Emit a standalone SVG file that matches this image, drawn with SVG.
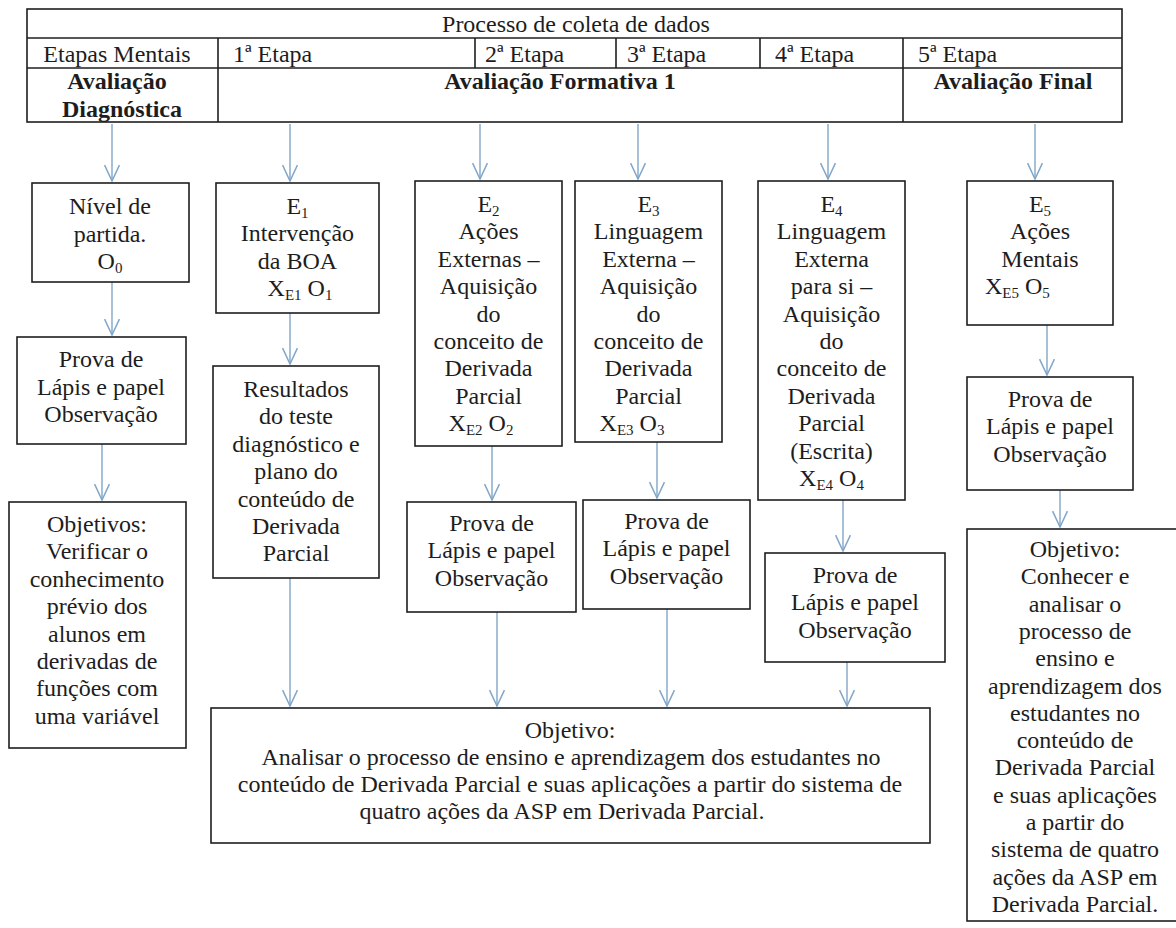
<svg xmlns="http://www.w3.org/2000/svg" width="1176" height="928" viewBox="0 0 1176 928" font-family="Liberation Serif, Times New Roman, serif">
<style>
text{font-family:Liberation Serif, Times New Roman, serif;font-size:24px;fill:#1d1d1d;text-anchor:middle}
.b{font-weight:bold}
.l{text-anchor:start}
.s{font-size:15px}
.box{fill:#fff;stroke:#1f1f1f;stroke-width:1.6}
.grid{stroke:#1f1f1f;stroke-width:1.6;fill:none}
#connectors line{stroke:#80a6c8;stroke-width:1.4;marker-end:url(#v)}
</style>
<defs>
<marker id="v" markerUnits="userSpaceOnUse" markerWidth="18" markerHeight="18" viewBox="-16 -8 17 16" refX="0" refY="0" orient="auto" overflow="visible">
<path d="M-15,-7 L0,0 L-15,7" fill="none" stroke="#80a6c8" stroke-width="1.4"/>
</marker>
</defs>
<rect width="1176" height="928" fill="#fff"/>

<!-- header table -->
<g id="header">
<rect class="grid" x="27" y="9" width="1095" height="113"/>
<line class="grid" x1="27" y1="38" x2="1122" y2="38"/>
<line class="grid" x1="27" y1="68" x2="1122" y2="68"/>
<line class="grid" x1="218" y1="38" x2="218" y2="122"/>
<line class="grid" x1="475" y1="38" x2="475" y2="68"/>
<line class="grid" x1="616" y1="38" x2="616" y2="68"/>
<line class="grid" x1="760" y1="38" x2="760" y2="68"/>
<line class="grid" x1="903" y1="38" x2="903" y2="122"/>
<text x="576" y="32">Processo de coleta de dados</text>
<text x="117" y="62">Etapas Mentais</text>
<text class="l" x="233" y="62">1ª Etapa</text>
<text class="l" x="485" y="62">2ª Etapa</text>
<text class="l" x="627" y="62">3ª Etapa</text>
<text class="l" x="775" y="62">4ª Etapa</text>
<text class="l" x="918" y="62">5ª Etapa</text>
<text class="b" x="117" y="89">Avaliação</text>
<text class="b" x="122" y="117">Diagnóstica</text>
<text class="b" x="560" y="89">Avaliação Formativa 1</text>
<text class="b" x="1013" y="89">Avaliação Final</text>
</g>

<g id="connectors">
<line x1="112" y1="124" x2="112" y2="181"/>
<line x1="290" y1="124" x2="290" y2="181"/>
<line x1="480" y1="124" x2="480" y2="179"/>
<line x1="638" y1="124" x2="638" y2="179"/>
<line x1="828" y1="124" x2="828" y2="179"/>
<line x1="1035" y1="124" x2="1035" y2="179"/>
<line x1="112" y1="282" x2="112" y2="335"/>
<line x1="102" y1="444" x2="102" y2="500"/>
<line x1="290" y1="313" x2="290" y2="364"/>
<line x1="290" y1="578" x2="290" y2="706"/>
<line x1="492" y1="446" x2="492" y2="500"/>
<line x1="497" y1="612" x2="497" y2="706"/>
<line x1="657" y1="442" x2="657" y2="498"/>
<line x1="667" y1="609" x2="667" y2="706"/>
<line x1="843" y1="500" x2="843" y2="551"/>
<line x1="847" y1="662" x2="847" y2="706"/>
<line x1="1047" y1="325" x2="1047" y2="375"/>
<line x1="1060" y1="490" x2="1060" y2="527"/>
</g>

<g id="nivel">
<rect class="box" x="32" y="183" width="157" height="99"/>
<text x="110" y="214">Nível de</text>
<text x="110" y="241.5">partida.</text>
<text x="110" y="269">O<tspan class="s" dy="4">0</tspan></text>
</g>

<g id="prova-diagnostica">
<rect class="box" x="17" y="337" width="169" height="107"/>
<text x="101" y="367">Prova de</text>
<text x="101" y="394.5">Lápis e papel</text>
<text x="101" y="422">Observação</text>
</g>

<g id="objetivos-diagnostica">
<rect class="box" x="9" y="502" width="177" height="246"/>
<text x="97" y="532">Objetivos:</text>
<text x="97" y="559.4">Verificar o</text>
<text x="97" y="586.8">conhecimento</text>
<text x="97" y="614.2">prévio dos</text>
<text x="97" y="641.6">alunos em</text>
<text x="97" y="669">derivadas de</text>
<text x="97" y="696.4">funções com</text>
<text x="97" y="723.8">uma variável</text>
</g>

<g id="e1">
<rect class="box" x="216" y="183" width="163" height="130"/>
<text x="297.5" y="214">E<tspan class="s" dy="4">1</tspan></text>
<text x="297.5" y="241.4">Intervenção</text>
<text x="297.5" y="268.8">da BOA</text>
<text x="300" y="296.2">X<tspan class="s" dy="4">E1</tspan><tspan dy="-4"> O</tspan><tspan class="s" dy="4">1</tspan></text>
</g>

<g id="resultados">
<rect class="box" x="213" y="366" width="166" height="212"/>
<text x="296" y="397">Resultados</text>
<text x="296" y="424.4">do teste</text>
<text x="296" y="451.8">diagnóstico e</text>
<text x="296" y="479.2">plano do</text>
<text x="296" y="506.6">conteúdo de</text>
<text x="296" y="534">Derivada</text>
<text x="296" y="561.4">Parcial</text>
</g>

<g id="e2">
<rect class="box" x="415" y="181" width="147" height="265"/>
<text x="488.5" y="212">E<tspan class="s" dy="4">2</tspan></text>
<text x="488.5" y="239.4">Ações</text>
<text x="488.5" y="266.8">Externas –</text>
<text x="488.5" y="294.2">Aquisição</text>
<text x="488.5" y="321.6">do</text>
<text x="488.5" y="349">conceito de</text>
<text x="488.5" y="376.4">Derivada</text>
<text x="488.5" y="403.8">Parcial</text>
<text x="481" y="431.2">X<tspan class="s" dy="4">E2</tspan><tspan dy="-4"> O</tspan><tspan class="s" dy="4">2</tspan></text>
</g>

<g id="prova-e2">
<rect class="box" x="407" y="502" width="169" height="110"/>
<text x="491.5" y="531">Prova de</text>
<text x="491.5" y="558.4">Lápis e papel</text>
<text x="491.5" y="585.8">Observação</text>
</g>

<g id="e3">
<rect class="box" x="575" y="181" width="147" height="261"/>
<text x="648.5" y="212">E<tspan class="s" dy="4">3</tspan></text>
<text x="648.5" y="239.4">Linguagem</text>
<text x="648.5" y="266.8">Externa –</text>
<text x="648.5" y="294.2">Aquisição</text>
<text x="648.5" y="321.6">do</text>
<text x="648.5" y="349">conceito de</text>
<text x="648.5" y="376.4">Derivada</text>
<text x="648.5" y="403.8">Parcial</text>
<text x="632" y="431.2">X<tspan class="s" dy="4">E3</tspan><tspan dy="-4"> O</tspan><tspan class="s" dy="4">3</tspan></text>
</g>

<g id="prova-e3">
<rect class="box" x="583" y="500" width="167" height="109"/>
<text x="666.5" y="529">Prova de</text>
<text x="666.5" y="556.4">Lápis e papel</text>
<text x="666.5" y="583.8">Observação</text>
</g>

<g id="e4">
<rect class="box" x="758" y="181" width="147" height="319"/>
<text x="831.5" y="212">E<tspan class="s" dy="4">4</tspan></text>
<text x="831.5" y="239.4">Linguagem</text>
<text x="831.5" y="266.8">Externa</text>
<text x="831.5" y="294.2">para si –</text>
<text x="831.5" y="321.6">Aquisição</text>
<text x="831.5" y="349">do</text>
<text x="831.5" y="376.4">conceito de</text>
<text x="831.5" y="403.8">Derivada</text>
<text x="831.5" y="431.2">Parcial</text>
<text x="831.5" y="458.6">(Escrita)</text>
<text x="831.5" y="486">X<tspan class="s" dy="4">E4</tspan><tspan dy="-4"> O</tspan><tspan class="s" dy="4">4</tspan></text>
</g>

<g id="prova-e4">
<rect class="box" x="765" y="553" width="180" height="109"/>
<text x="855" y="583">Prova de</text>
<text x="855" y="610.4">Lápis e papel</text>
<text x="855" y="637.8">Observação</text>
</g>

<g id="e5">
<rect class="box" x="967" y="181" width="146" height="144"/>
<text x="1040" y="212">E<tspan class="s" dy="4">5</tspan></text>
<text x="1040" y="239.4">Ações</text>
<text x="1040" y="266.8">Mentais</text>
<text class="l" x="985" y="294.2">X<tspan class="s" dy="4">E5</tspan><tspan dy="-4"> O</tspan><tspan class="s" dy="4">5</tspan></text>
</g>

<g id="prova-final">
<rect class="box" x="967" y="377" width="166" height="113"/>
<text x="1050" y="407">Prova de</text>
<text x="1050" y="434.4">Lápis e papel</text>
<text x="1050" y="461.8">Observação</text>
</g>

<g id="objetivo-formativa">
<rect class="box" x="211" y="708" width="719" height="135"/>
<text x="570" y="738">Objetivo:</text>
<text x="571" y="765">Analisar o processo de ensino e aprendizagem dos estudantes no</text>
<text x="570" y="792">conteúdo de Derivada Parcial e suas aplicações a partir do sistema de</text>
<text x="562" y="819">quatro ações da ASP em Derivada Parcial.</text>
</g>

<!-- this box runs past the right edge of the page -->
<g id="objetivo-final">
<rect class="box" x="967" y="529" width="216" height="392"/>
<text x="1075" y="557">Objetivo:</text>
<text x="1075" y="584.3">Conhecer e</text>
<text x="1075" y="611.6">analisar o</text>
<text x="1075" y="638.9">processo de</text>
<text x="1075" y="666.2">ensino e</text>
<text x="1075" y="693.5">aprendizagem dos</text>
<text x="1075" y="720.8">estudantes no</text>
<text x="1075" y="748.1">conteúdo de</text>
<text x="1075" y="775.4">Derivada Parcial</text>
<text x="1075" y="802.7">e suas aplicações</text>
<text x="1075" y="830">a partir do</text>
<text x="1075" y="857.3">sistema de quatro</text>
<text x="1075" y="884.6">ações da ASP em</text>
<text x="1075" y="911.9">Derivada Parcial.</text>
</g>
</svg>
